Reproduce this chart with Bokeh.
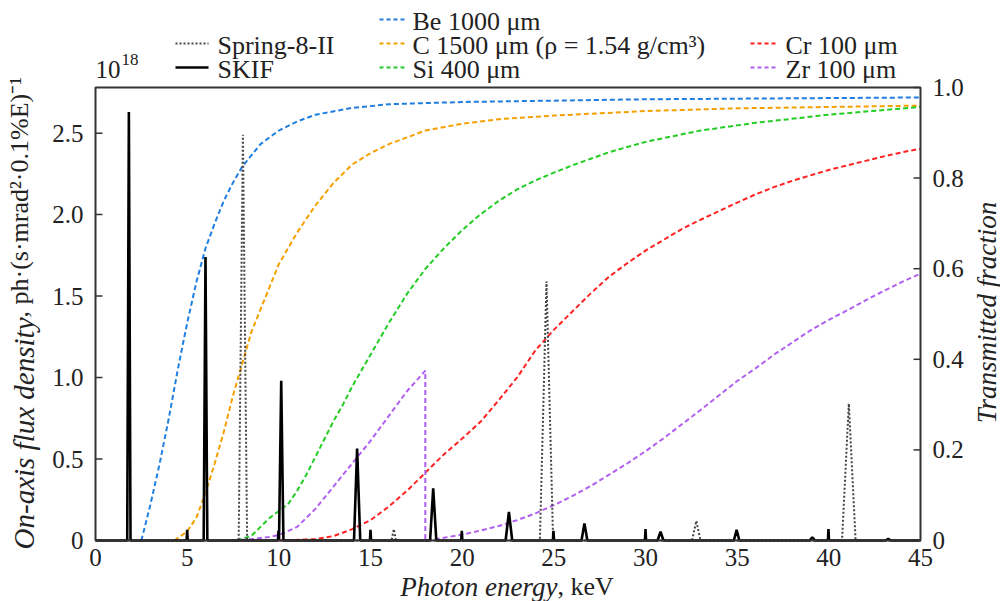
import numpy as np
from bokeh.plotting import figure
from bokeh.models import Range1d
from bokeh.core.properties import value
from bokeh.embed import file_html
from bokeh.resources import INLINE

# ---------------- data ----------------
energy_lim = [0, 45]
flux_lim = [0, 2.78]                                # units of 1e18
trans_lim = [0, 1]
energy_ticks = [0, 5, 10, 15, 20, 25, 30, 35, 40, 45]
flux_ticks = [0, 0.5, 1.0, 1.5, 2.0, 2.5]
flux_tick_labels = ["0", "0.5", "1.0", "1.5", "2.0", "2.5"]
trans_ticks = [0, 0.2, 0.4, 0.6, 0.8, 1.0]
trans_tick_labels = ["0", "0.2", "0.4", "0.6", "0.8", "1.0"]

# SKIF harmonics (keV, 1e18 ph/(s mrad^2 0.1%BW), half base width keV)
skif_centers = [1.82, 6.0, 10.13, 14.27, 18.42, 22.55, 26.67, 30.82, 34.97, 39.1, 43.24]
skif_heights = [2.63, 1.74, 0.98, 0.565, 0.32, 0.175, 0.105, 0.055, 0.065, 0.02, 0.01]
skif_halfw = [0.09, 0.1, 0.12, 0.17, 0.17, 0.18, 0.16, 0.16, 0.15, 0.15, 0.15]
# thin spikes of SKIF spectrum
spike_centers = [5.0, 9.98, 15.0, 19.98, 24.98, 30.0, 39.98]
spike_heights = [0.065, 0.06, 0.065, 0.06, 0.06, 0.07, 0.07]

# Spring-8-II harmonics
spring_centers = [8.04, 16.27, 24.6, 32.77, 41.09]
spring_heights = [2.49, 0.07, 1.59, 0.12, 0.84]
spring_halfw = [0.23, 0.12, 0.36, 0.23, 0.37]

# transmitted fractions
be_E = [2.5, 3.0, 3.5, 4.0, 4.5, 5.0, 5.5, 6.0, 6.5, 7.0, 7.5, 8.0, 9.0, 10.0, 11.0, 12.0, 14.0, 16.0, 20.0, 25.0, 30.0, 45.0]
be_T = [0.0, 0.08, 0.17, 0.27, 0.38, 0.48, 0.57, 0.645, 0.70, 0.75, 0.79, 0.825, 0.875, 0.905, 0.925, 0.94, 0.955, 0.963, 0.968, 0.971, 0.974, 0.978]

c_E = [4.3, 5.0, 5.5, 6.0, 6.5, 7.0, 7.5, 8.0, 8.5, 9.0, 9.5, 10.0, 11.0, 12.0, 13.0, 14.0, 15.0, 16.0, 18.0, 20.0, 22.0, 25.0, 30.0, 35.0, 45.0]
c_T = [0.0, 0.02, 0.05, 0.105, 0.17, 0.24, 0.32, 0.39, 0.46, 0.51, 0.56, 0.61, 0.68, 0.74, 0.79, 0.83, 0.855, 0.875, 0.905, 0.92, 0.93, 0.938, 0.948, 0.954, 0.96]

si_E = [7.7, 8.5, 9.0, 9.5, 10.0, 10.5, 11.0, 11.5, 12.0, 12.5, 13.0, 13.5, 14.0, 15.0, 16.0, 17.0, 18.0, 19.0, 20.0, 21.0, 22.0, 23.0, 24.0, 25.0, 26.0, 28.0, 30.0, 33.0, 36.0, 40.0, 45.0]
si_T = [0.0, 0.01, 0.03, 0.05, 0.065, 0.08, 0.11, 0.145, 0.185, 0.225, 0.265, 0.30, 0.34, 0.41, 0.48, 0.545, 0.60, 0.645, 0.685, 0.72, 0.75, 0.775, 0.795, 0.812, 0.828, 0.857, 0.88, 0.905, 0.922, 0.94, 0.957]

cr_E = [10.0, 12.0, 13.0, 14.0, 15.0, 16.0, 17.0, 18.0, 19.0, 20.0, 21.0, 22.0, 23.0, 24.0, 25.0, 26.0, 27.0, 28.0, 29.0, 30.0, 31.0, 32.0, 33.0, 34.0, 35.0, 36.0, 37.0, 38.0, 39.0, 40.0, 41.0, 42.0, 43.0, 44.0, 45.0]
cr_T = [0.0, 0.003, 0.01, 0.025, 0.045, 0.075, 0.11, 0.15, 0.19, 0.225, 0.262, 0.31, 0.36, 0.42, 0.465, 0.505, 0.545, 0.582, 0.612, 0.64, 0.664, 0.688, 0.708, 0.727, 0.746, 0.764, 0.78, 0.794, 0.806, 0.818, 0.828, 0.838, 0.848, 0.857, 0.865]

zr_E = [7.5, 8.5, 9.5, 10.0, 11.0, 12.0, 13.0, 14.0, 15.0, 16.0, 17.0, 17.99, 17.99, 18.5, 19.0, 20.0, 21.0, 22.0, 23.0, 24.0, 25.0, 26.0, 27.0, 28.0, 29.0, 30.0, 31.0, 32.0, 33.0, 34.0, 35.0, 36.0, 37.0, 38.0, 39.0, 40.0, 41.0, 42.0, 43.0, 44.0, 45.0]
zr_T = [0.0, 0.003, 0.008, 0.012, 0.03, 0.07, 0.12, 0.17, 0.22, 0.275, 0.33, 0.375, 0.0, 0.003, 0.006, 0.013, 0.022, 0.032, 0.045, 0.06, 0.078, 0.098, 0.12, 0.145, 0.17, 0.197, 0.226, 0.257, 0.288, 0.32, 0.352, 0.38, 0.41, 0.437, 0.464, 0.487, 0.508, 0.53, 0.551, 0.571, 0.589]

legend_labels = ["Spring-8-II", "SKIF", "Be 1000 μm", "C 1500 μm (ρ = 1.54 g/cm³)",
                 "Si 400 μm", "Cr 100 μm", "Zr 100 μm"]

# ---------------- build spectra polylines ----------------
def spectrum(centers, heights, halfw):
    xs, ys = [float(energy_lim[0])], [0.0]
    for c, h, w in sorted(zip(centers, heights, halfw)):
        xs += [c - w, c, c + w]
        ys += [0.0, h, 0.0]
    xs.append(float(energy_lim[1]))
    ys.append(0.0)
    return xs, ys

skif_x, skif_y = spectrum(skif_centers + spike_centers,
                          skif_heights + spike_heights,
                          skif_halfw + [0.03] * len(spike_centers))
spr_x, spr_y = spectrum(spring_centers, spring_heights, spring_halfw)

# ---------------- layout: the frame fills the canvas; axes drawn from ticks ----------------
W, H = 1000, 601
L, R, T, B = 95, 920, 87, 540          # plot box in page pixels
sx = (R - L) / (energy_lim[1] - energy_lim[0])
sy = (B - T) / (flux_lim[1] - flux_lim[0])
st = (B - T) / (trans_lim[1] - trans_lim[0])

p = figure(width=W, height=H, output_backend="svg", toolbar_location=None,
           x_range=Range1d(energy_lim[0] - L / sx, energy_lim[0] + (W - L) / sx),
           y_range=Range1d(flux_lim[0] - (H - B) / sy, flux_lim[0] + B / sy),
           min_border=0)
p.extra_y_ranges = {"T": Range1d(trans_lim[0] - (H - B) / st, trans_lim[0] + B / st)}
p.xaxis.visible = False
p.yaxis.visible = False
p.xgrid.visible = False
p.ygrid.visible = False
p.outline_line_color = None
p.background_fill_color = "white"
p.border_fill_color = "white"

def X(px):
    return energy_lim[0] + (px - L) / sx

def Y(py):
    return flux_lim[0] + (B - py) / sy

FONT = value("Liberation Serif")
FS = value("25px")
TXT = "#222222"

# transmission curves
DASH = "5 3"
COLS = {"be": "#1f7fe0", "c": "#f5a000", "si": "#22cc22", "cr": "#ff2222", "zr": "#b060f0"}
p.line(be_E, be_T, y_range_name="T", line_color=COLS["be"], line_width=2, line_dash=DASH)
p.line(c_E, c_T, y_range_name="T", line_color=COLS["c"], line_width=2, line_dash=DASH)
p.line(si_E, si_T, y_range_name="T", line_color=COLS["si"], line_width=2, line_dash=DASH)
p.line(cr_E, cr_T, y_range_name="T", line_color=COLS["cr"], line_width=2, line_dash=DASH)
p.line(zr_E, zr_T, y_range_name="T", line_color=COLS["zr"], line_width=2, line_dash=DASH)

# spectra
SPR_STYLE = dict(line_color="#444444", line_width=2, line_dash="2 2")
SKIF_STYLE = dict(line_color="black", line_width=2.6)
p.line(spr_x, spr_y, **SPR_STYLE)
p.line(skif_x, skif_y, **SKIF_STYLE)

# plot box
bx = [energy_lim[0], energy_lim[1], energy_lim[1], energy_lim[0], energy_lim[0]]
by = [flux_lim[0], flux_lim[0], flux_lim[1], flux_lim[1], flux_lim[0]]
p.line(bx, by, line_color="#333333", line_width=2)

# inward ticks (not at the corners)
TL = 7
fl = flux_ticks[1:]
p.segment(x0=[energy_lim[0]] * len(fl), y0=fl, x1=[energy_lim[0] + TL / sx] * len(fl), y1=fl,
          line_color="#333333", line_width=1.5)
tr = trans_ticks[1:]
p.segment(x0=[energy_lim[1] - TL / sx] * len(tr), y0=tr, x1=[energy_lim[1]] * len(tr), y1=tr,
          y_range_name="T", line_color="#333333", line_width=1.5)

# tick labels
p.text(x=[X(L - 12)] * len(flux_ticks), y=flux_ticks, text=flux_tick_labels, text_align="right",
       text_baseline="middle", text_font=FONT, text_font_size=FS, text_color=TXT)
p.text(x=[X(R + 12)] * len(trans_ticks), y=trans_ticks, text=trans_tick_labels, y_range_name="T",
       text_align="left", text_baseline="middle", text_font=FONT, text_font_size=FS, text_color=TXT)
p.text(x=energy_ticks, y=[Y(B + 8)] * len(energy_ticks), text=[str(t) for t in energy_ticks],
       text_align="center", text_baseline="top", text_font=FONT, text_font_size=FS, text_color=TXT)

def lab(text, px, py, align="left", baseline="alphabetic", angle=0.0, style="normal", size="25px"):
    p.text(x=[X(px)], y=[Y(py)], text=[text], text_align=align, text_baseline=baseline,
           angle=angle, text_font=FONT, text_font_size=value(size),
           text_font_style=style, text_color=TXT)

def seg(x0, x1, py, **style):
    p.line([X(x0), X(x1)], [Y(py), Y(py)], **style)

# legend
LFS = "26px"
leg_dash = dict(line_width=2, line_dash="4 3")
seg(175, 208, 43, **SPR_STYLE)
lab(legend_labels[0], 217, 45, size=LFS)
seg(175, 208, 67, **SKIF_STYLE)
lab(legend_labels[1], 217, 69, size=LFS)
seg(379, 407, 19, line_color=COLS["be"], **leg_dash)
lab(legend_labels[2], 412, 21, size=LFS)
seg(379, 407, 43, line_color=COLS["c"], **leg_dash)
lab(legend_labels[3], 412, 45, size=LFS)
seg(379, 407, 67, line_color=COLS["si"], **leg_dash)
lab(legend_labels[4], 412, 69, size=LFS)
seg(750, 778, 43, line_color=COLS["cr"], **leg_dash)
lab(legend_labels[5], 785, 45, size=LFS)
seg(750, 778, 67, line_color=COLS["zr"], **leg_dash)
lab(legend_labels[6], 785, 69, size=LFS)

# multiplier of the left axis
lab("10", 95, 69, size="25px")
lab("18", 121, 59, size="17px")

# axis titles
lab("Photon energy", 557, 586, align="right", style="italic", size="27px")
lab(", keV", 557, 586, align="left", size="26px")
lab("On-axis flux density", 23, 317, align="right", angle=np.pi / 2, style="italic", size="29px")
lab(", ph·(s·mrad²·0.1%E)⁻¹", 19, 317, align="left", angle=np.pi / 2, size="26px")
lab("Transmitted fraction", 986, 312, align="center", angle=np.pi / 2, style="italic", size="27px")

open("out.html", "w").write(file_html(p, INLINE))
